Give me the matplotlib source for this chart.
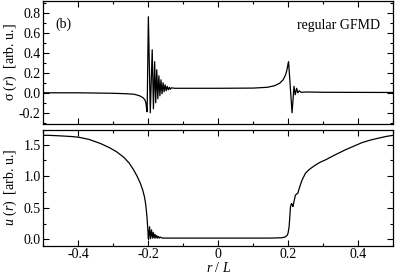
import matplotlib
matplotlib.use("Agg")
import matplotlib.pyplot as plt
from matplotlib.ticker import MultipleLocator

plt.rcParams['font.family'] = ['Liberation Serif', 'DejaVu Serif']
plt.rcParams['mathtext.fontset'] = 'custom'
plt.rcParams['mathtext.rm'] = 'Liberation Serif'
plt.rcParams['mathtext.it'] = 'Liberation Serif:italic'

# ---- data: stress sigma(r) (top panel) ----
r_sigma = [-0.5, -0.4, -0.3, -0.26, -0.24, -0.225, -0.215, -0.21, -0.207, -0.205,
           -0.2035, -0.2, -0.1945, -0.189, -0.1855, -0.182, -0.179, -0.176, -0.173,
           -0.170, -0.167, -0.164, -0.161, -0.158, -0.155, -0.152, -0.149, -0.146,
           -0.143, -0.140, -0.137, -0.134, -0.125, -0.1, 0.0, 0.1, 0.14, 0.16, 0.175,
           0.185, 0.192, 0.196, 0.199, 0.2005, 0.2105, 0.216, 0.2195, 0.2235, 0.227,
           0.231, 0.236, 0.25, 0.3, 0.4, 0.5]
sigma = [0.0, 0.0, -0.005, -0.01, -0.015, -0.03, -0.05, -0.07, -0.10, -0.16,
         -0.19, 0.76, -0.20, 0.43, -0.16, 0.31, -0.10, 0.23, -0.06,
         0.17, -0.03, 0.13, -0.01, 0.10, 0.01, 0.08, 0.02, 0.065,
         0.03, 0.055, 0.035, 0.05, 0.045, 0.045, 0.045, 0.047, 0.055, 0.07, 0.095,
         0.13, 0.18, 0.23, 0.29, 0.31, -0.20, 0.065, -0.02, 0.045, 0.0,
         0.02, 0.005, 0.008, 0.005, 0.004, 0.003]

# ---- data: displacement u(r) (bottom panel) ----
r_u = [-0.5, -0.48, -0.45, -0.42, -0.4, -0.37, -0.337, -0.31, -0.29, -0.27,
       -0.255, -0.243, -0.233, -0.223, -0.216, -0.211, -0.208, -0.206, -0.204,
       -0.2025, -0.201, -0.2003,
       -0.1995, -0.1965, -0.194, -0.191, -0.1885, -0.186, -0.1835, -0.181,
       -0.1785, -0.176, -0.1735, -0.171, -0.1685, -0.166, -0.16, -0.1, 0.0,
       0.1, 0.15, 0.18, 0.19, 0.196, 0.199, 0.202, 0.204, 0.206, 0.209, 0.2115,
       0.213, 0.216, 0.22, 0.224, 0.227, 0.23, 0.234, 0.239, 0.249, 0.26, 0.275,
       0.29, 0.306, 0.33, 0.363, 0.39, 0.411, 0.435, 0.458, 0.48, 0.5]
u = [1.65, 1.648, 1.64, 1.63, 1.62, 1.585, 1.52, 1.45, 1.385, 1.30,
     1.21, 1.11, 1.01, 0.89, 0.78, 0.67, 0.57, 0.47, 0.36,
     0.24, 0.11, 0.02,
     0.0, 0.20, 0.01, 0.15, 0.02, 0.11, 0.02, 0.08,
     0.02, 0.06, 0.02, 0.045, 0.02, 0.035, 0.02, 0.02, 0.02,
     0.02, 0.02, 0.025, 0.035, 0.06, 0.095, 0.2, 0.35, 0.52, 0.57, 0.54,
     0.52, 0.60, 0.70, 0.72, 0.73, 0.79, 0.86, 0.94, 1.05, 1.11, 1.17,
     1.22, 1.26, 1.33, 1.42, 1.485, 1.535, 1.575, 1.605, 1.632, 1.65]

x_ticks = [-0.4, -0.2, 0.0, 0.2, 0.4]
x_ticklabels = ['-0.4', '-0.2', '0', '0.2', '0.4']
sig_ticks = [-0.2, 0.0, 0.2, 0.4, 0.6, 0.8]
u_ticks = [0.0, 0.5, 1.0, 1.5]

fig = plt.figure(figsize=(3.95, 2.75), dpi=100)
ax1 = fig.add_axes([0.1097, 0.548, 0.8863, 0.450])
ax2 = fig.add_axes([0.1097, 0.1065, 0.8863, 0.4225])

fs = 10
for ax in (ax1, ax2):
    ax.set_xlim(-0.5, 0.5)
    ax.set_xticks(x_ticks)
    ax.xaxis.set_minor_locator(MultipleLocator(0.1))
    ax.tick_params(which='both', direction='in', top=True, right=True,
                   labelsize=fs, width=0.8, pad=2)
    ax.tick_params(which='major', length=4.5)
    ax.tick_params(which='minor', length=2.5)
    for s in ax.spines.values():
        s.set_linewidth(0.9)

ax1.plot(r_sigma, sigma, color='black', lw=0.9)
ax1.set_ylim(-0.315, 0.922)
ax1.set_yticks(sig_ticks)
ax1.set_yticklabels(['-0.2', '0.0', '0.2', '0.4', '0.6', '0.8'])
ax1.yaxis.set_minor_locator(MultipleLocator(0.1))
ax1.set_xticklabels([])
ax1.set_ylabel(r'σ ($r$)  [arb. u.]', fontsize=fs)
ax1.yaxis.set_label_coords(-0.07, 0.5)
ax1.text(0.035, 0.81, '(b)', transform=ax1.transAxes, fontsize=fs, va='center')
ax1.text(0.962, 0.80, 'regular GFMD', transform=ax1.transAxes, fontsize=fs,
         ha='right', va='center')

ax2.plot(r_u, u, color='black', lw=0.9)
ax2.set_ylim(-0.101, 1.741)
ax2.set_yticks(u_ticks)
ax2.set_yticklabels(['0.0', '0.5', '1.0', '1.5'])
ax2.yaxis.set_minor_locator(MultipleLocator(0.25))
ax2.set_xticklabels(x_ticklabels)
ax2.set_ylabel(r'$u$ ($r$)  [arb. u.]', fontsize=fs)
ax2.yaxis.set_label_coords(-0.07, 0.5)
ax2.set_xlabel(r'$r$ / $L$', fontsize=fs, labelpad=0)

fig.savefig('out.png', dpi=100)
